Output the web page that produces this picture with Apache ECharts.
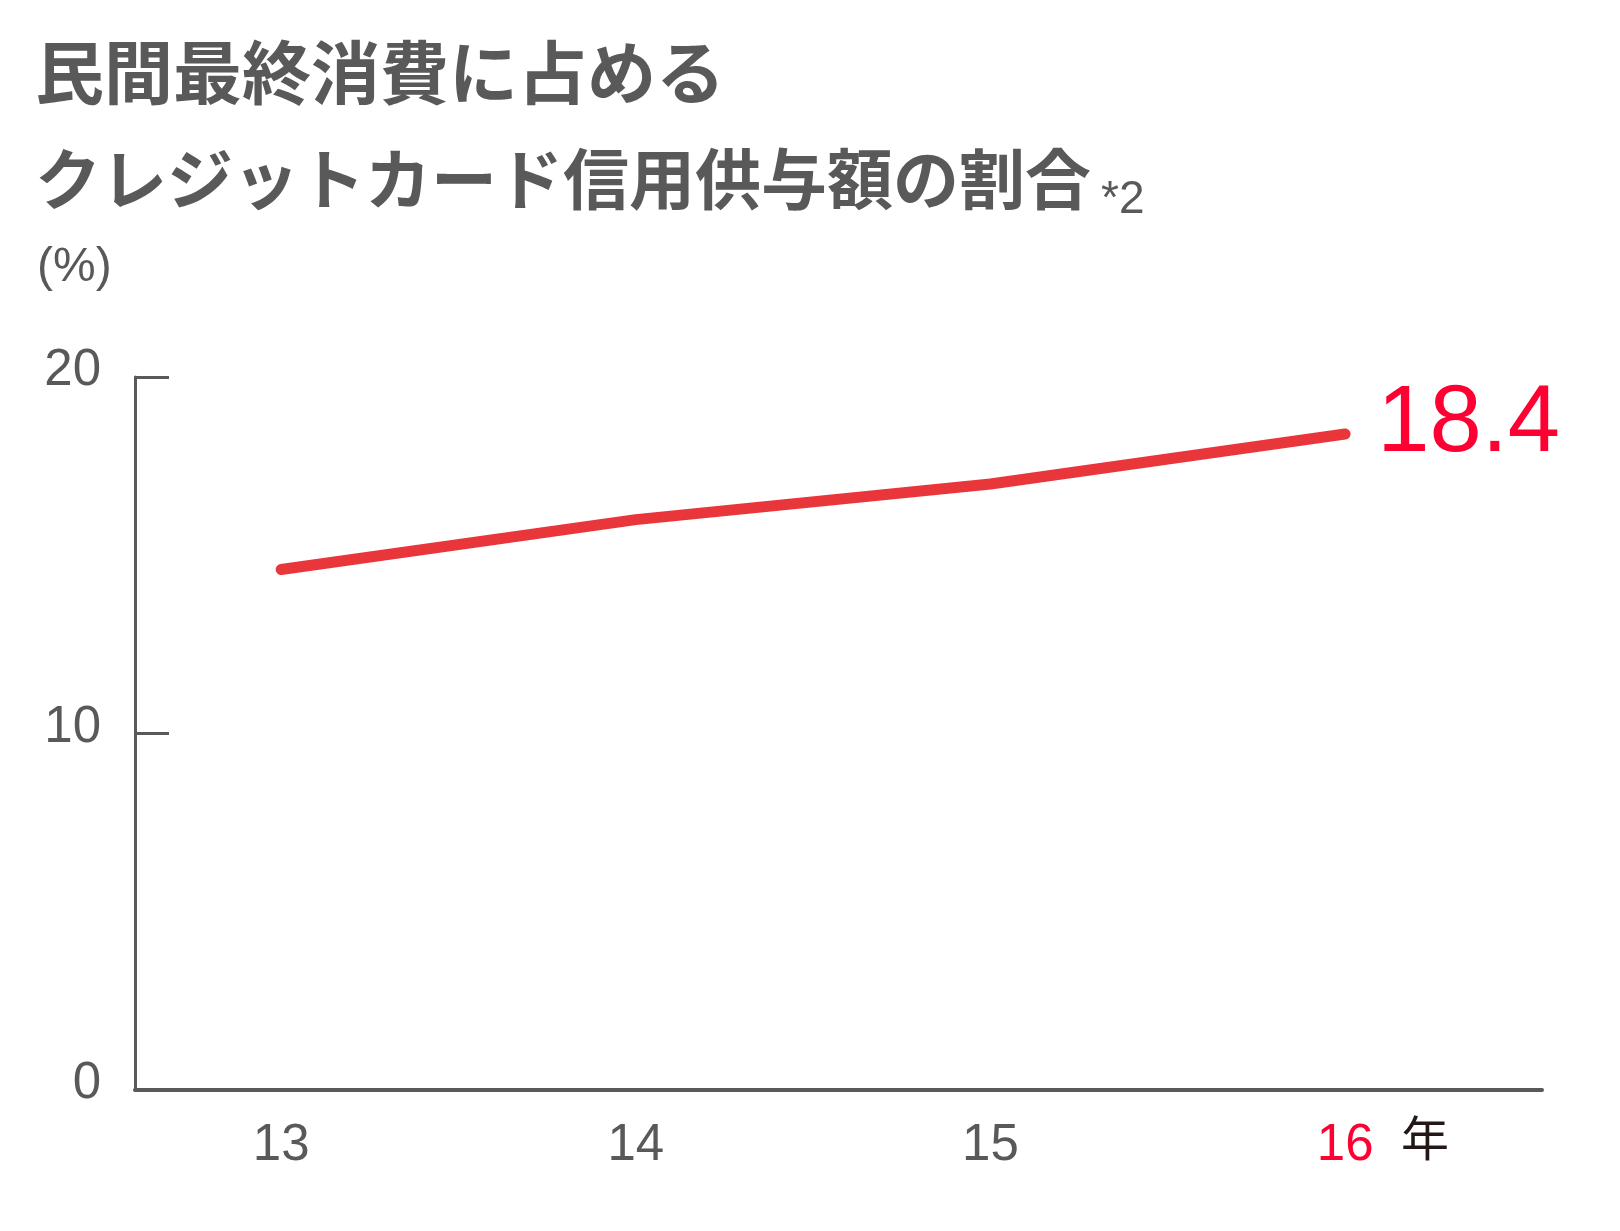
<!DOCTYPE html>
<html>
<head>
<meta charset="utf-8">
<script src="https://cdn.jsdelivr.net/npm/echarts@6/dist/echarts.min.js"></script>
<style>
  html, body { margin: 0; padding: 0; background: #fff; }
  #lineChartContainer { width: 1620px; height: 1231px; }
</style>
</head>
<body>
<div id="lineChartContainer"></div>
<script>
// 年（横軸）と割合（%）
var years = [13, 14, 15, 16];
var shareValues = [14.6, 16.0, 17.0, 18.4];
var yTicks = [0, 10, 20];
var highlightYear = 16;

var GRAY = '#595959';
var RED_LINE = '#e8363a';
var RED_TEXT = '#ff0033';
var NUM_FONT = 'Arial, "Liberation Sans", sans-serif';
var JP_FONT = '"Noto Sans CJK JP", sans-serif';

var myChart = echarts.init(document.getElementById('lineChartContainer'));

var points = years.map(function (y, i) { return [y, shareValues[i]]; });

var option = {
    backgroundColor: '#fff',
    animation: false,
    title: [
        {
            text: '{a|民間最終消費に占める}\n{b|クレジットカード信用供与額の割合}{s|*2}',
            left: 30,
            top: 15,
            textStyle: {
                fontFamily: JP_FONT,
                fontWeight: 'bold',
                fontSize: 68,
                lineHeight: 106,
                color: GRAY,
                rich: {
                    a: {
                        fontFamily: JP_FONT, fontWeight: 'bold', fontSize: 69,
                        lineHeight: 106, color: GRAY
                    },
                    b: {
                        fontFamily: JP_FONT, fontWeight: 'bold', fontSize: 66,
                        lineHeight: 106, color: GRAY
                    },
                    s: {
                        fontFamily: NUM_FONT,
                        fontWeight: 'normal',
                        fontSize: 46,
                        lineHeight: 46,
                        color: GRAY,
                        padding: [42, 0, 0, 10]
                    }
                }
            }
        },
        {
            text: '(%)',
            left: 32,
            top: 239,
            textStyle: {
                fontFamily: NUM_FONT,
                fontWeight: 'normal',
                fontSize: 48,
                color: GRAY
            }
        }
    ],
    grid: { left: 135, right: 78, top: 377, bottom: 141 },
    xAxis: {
        type: 'value',
        min: 12.588,
        max: 16.555,
        splitLine: { show: false },
        axisLine: { show: true, lineStyle: { color: GRAY, width: 4 } },
        axisTick: { show: false },
        axisLabel: {
            customValues: years,
            margin: 30,
            fontFamily: NUM_FONT,
            fontSize: 51,
            color: GRAY,
            formatter: function (v) {
                return v === highlightYear ? '{hl|' + v + '}' : String(v);
            },
            rich: {
                hl: { color: RED_TEXT, fontFamily: NUM_FONT, fontSize: 51 }
            }
        }
    },
    yAxis: {
        type: 'value',
        min: 0,
        max: 20,
        interval: 10,
        splitLine: { show: false },
        axisLine: { show: true, lineStyle: { color: GRAY, width: 3 } },
        axisTick: {
            show: true,
            inside: true,
            length: 34,
            lineStyle: { color: GRAY, width: 3 }
        },
        axisLabel: {
            margin: 34,
            fontFamily: NUM_FONT,
            fontSize: 51,
            color: GRAY,
            verticalAlign: 'bottom',
            lineHeight: 12,
            formatter: function (v) { return yTicks.indexOf(v) >= 0 ? String(v) : ''; }
        }
    },
    series: [
        {
            type: 'line',
            data: points,
            symbol: 'none',
            lineStyle: { color: RED_LINE, width: 11, cap: 'round', join: 'round' },
            markPoint: {
                symbol: 'circle',
                symbolSize: 0,
                data: [
                    {
                        coord: points[points.length - 1],
                        value: shareValues[shareValues.length - 1],
                        label: {
                            show: true,
                            position: 'right',
                            distance: 32,
                            offset: [0, -9],
                            formatter: '{c}',
                            fontFamily: NUM_FONT,
                            fontSize: 94,
                            color: RED_TEXT
                        }
                    }
                ]
            }
        }
    ],
    graphic: [
        {
            type: 'text',
            left: 1401,
            top: 1114,
            style: {
                text: '年',
                font: 'normal 48px "Noto Sans CJK JP", sans-serif',
                fill: '#231815'
            }
        }
    ]
};

myChart.setOption(option);
</script>
</body>
</html>
